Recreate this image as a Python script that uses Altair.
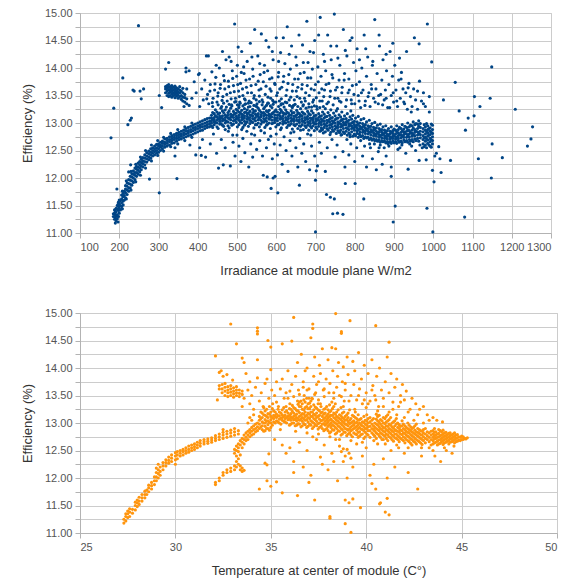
import altair as alt
import pandas as pd

# ---------------------------------------------------------------------------
# Module efficiency (%) against irradiance at module plane (W/m2)
# Column records: (irradiance, eff, eff, ...) ; pair records: (irradiance, eff)
# ---------------------------------------------------------------------------
IRR_CURVE = [
    (185, 11.35, 11.3), (188, 11.25, 11.36, 11.42), (190, 11.18, 11.28, 11.33, 11.4),
    (192, 11.22, 11.31, 11.38, 11.45), (195, 11.26, 11.33, 11.43, 11.5),
    (198, 11.3, 11.41, 11.48, 11.56), (200, 11.36, 11.45, 11.53, 11.6),
    (203, 11.42, 11.5, 11.59), (206, 11.48, 11.55, 11.62, 11.69), (210, 11.51, 11.58, 11.66, 11.72),
    (213, 11.6, 11.68, 11.76), (216, 11.64, 11.73, 11.8, 11.86), (220, 11.7, 11.78, 11.85, 11.91),
    (224, 11.76, 11.82, 11.9, 11.97), (228, 11.82, 11.89, 11.96, 12.03), (232, 11.87, 11.95, 12.02, 12.08),
    (236, 11.92, 12.0, 12.07, 12.13), (240, 11.97, 12.05, 12.1, 12.18), (244, 12.03, 12.1, 12.16, 12.21),
    (248, 12.07, 12.14, 12.2, 12.27), (252, 12.11, 12.18, 12.24, 12.3), (256, 12.15, 12.22, 12.28, 12.34),
    (260, 12.2, 12.26, 12.31, 12.37), (265, 12.24, 12.3, 12.36, 12.42), (270, 12.29, 12.35, 12.4, 12.46),
    (275, 12.33, 12.38, 12.44, 12.49), (280, 12.36, 12.42, 12.47, 12.53), (285, 12.4, 12.45, 12.5, 12.55),
    (290, 12.42, 12.48, 12.53, 12.58), (295, 12.45, 12.5, 12.55, 12.61), (300, 12.47, 12.53, 12.58, 12.62),
    (305, 12.5, 12.56, 12.6, 12.65), (310, 12.53, 12.58, 12.63, 12.67), (316, 12.56, 12.61, 12.65, 12.71),
    (322, 12.58, 12.63, 12.68, 12.72), (328, 12.6, 12.66, 12.7, 12.75), (334, 12.63, 12.68, 12.72, 12.77),
    (340, 12.64, 12.7, 12.74, 12.79), (346, 12.67, 12.72, 12.77, 12.81), (352, 12.7, 12.74, 12.79, 12.83),
    (358, 12.71, 12.76, 12.8, 12.85), (364, 12.73, 12.78, 12.82, 12.87), (370, 12.75, 12.8, 12.85, 12.9),
    (376, 12.77, 12.82, 12.86, 12.92), (382, 12.78, 12.84, 12.88, 12.94), (388, 12.8, 12.86, 12.91, 12.96),
    (394, 12.82, 12.88, 12.92, 12.98), (400, 12.84, 12.9, 12.95, 13.0), (406, 12.86, 12.92, 12.96, 13.02),
    (412, 12.87, 12.93, 12.98, 13.04), (418, 12.9, 12.95, 13.0, 13.06), (424, 12.92, 12.97, 13.02, 13.08),
    (430, 12.93, 12.98, 13.03, 13.09),
    # looser readings around the rising edge
    (197, 11.2, 11.52), (208, 11.44, 11.76), (218, 11.62, 11.95), (230, 11.78, 12.12),
    (242, 11.93, 12.25), (254, 12.05, 12.38), (267, 12.18, 12.5), (282, 12.31, 12.6),
    (298, 12.41, 12.68), (313, 12.49, 12.74), (331, 12.57, 12.81), (349, 12.62, 12.88),
    (367, 12.68, 12.93), (385, 12.74, 13.0),
]

IRR_BAND = [
    (435, 12.95, 13.0, 13.04, 13.09, 13.14), (442, 12.97, 13.02, 13.06, 13.1, 13.17),
    (449, 12.93, 13.0, 13.05, 13.11, 13.2), (456, 12.98, 13.03, 13.07, 13.12, 13.18),
    (463, 12.96, 13.04, 13.08, 13.13, 13.22), (470, 13.0, 13.05, 13.1, 13.15, 13.24),
    (477, 12.95, 13.02, 13.09, 13.14, 13.19), (484, 13.0, 13.06, 13.11, 13.16, 13.27),
    (491, 12.98, 13.04, 13.1, 13.15, 13.21), (498, 13.01, 13.07, 13.12, 13.18, 13.25),
    (505, 12.97, 13.05, 13.1, 13.14, 13.2, 13.28), (512, 13.0, 13.06, 13.11, 13.16, 13.23),
    (519, 12.96, 13.03, 13.09, 13.13, 13.19, 13.26), (526, 13.02, 13.07, 13.12, 13.17, 13.24),
    (533, 12.99, 13.05, 13.1, 13.15, 13.21, 13.3), (540, 13.01, 13.08, 13.13, 13.18, 13.25),
    (547, 12.97, 13.04, 13.1, 13.16, 13.22), (554, 13.0, 13.06, 13.12, 13.17, 13.27),
    (561, 12.98, 13.05, 13.11, 13.15, 13.2), (568, 13.02, 13.08, 13.13, 13.19, 13.26),
    (575, 12.96, 13.03, 13.09, 13.14, 13.22), (582, 13.0, 13.07, 13.12, 13.16, 13.23),
    (589, 12.99, 13.05, 13.11, 13.17, 13.28), (596, 13.01, 13.06, 13.1, 13.15, 13.21),
    (603, 12.97, 13.04, 13.09, 13.14, 13.2), (610, 13.0, 13.07, 13.12, 13.18, 13.25),
    (617, 12.98, 13.03, 13.08, 13.13, 13.19), (624, 13.0, 13.05, 13.1, 13.16, 13.24),
    (631, 12.96, 13.02, 13.08, 13.12, 13.18), (638, 12.99, 13.04, 13.09, 13.14, 13.22),
    (645, 12.97, 13.03, 13.07, 13.12, 13.19), (652, 12.98, 13.05, 13.1, 13.15, 13.23),
    (659, 12.95, 13.01, 13.06, 13.11, 13.17), (666, 12.97, 13.03, 13.08, 13.13, 13.2),
    (673, 12.95, 13.0, 13.05, 13.1, 13.16), (680, 12.96, 13.02, 13.07, 13.12, 13.21),
    (687, 12.94, 12.99, 13.04, 13.09, 13.15), (694, 12.95, 13.01, 13.06, 13.1, 13.18),
    (701, 12.92, 12.98, 13.03, 13.08, 13.14), (708, 12.94, 12.99, 13.05, 13.1, 13.17),
    (715, 12.91, 12.97, 13.02, 13.07, 13.13), (722, 12.92, 12.98, 13.03, 13.09, 13.16),
    (729, 12.9, 12.95, 13.0, 13.05, 13.12), (736, 12.91, 12.96, 13.02, 13.07, 13.14),
    (743, 12.88, 12.93, 12.99, 13.04, 13.1), (750, 12.89, 12.95, 13.0, 13.06, 13.13),
    (757, 12.86, 12.92, 12.97, 13.02, 13.09), (764, 12.87, 12.93, 12.98, 13.04, 13.11),
    (771, 12.84, 12.9, 12.96, 13.01, 13.07), (778, 12.85, 12.91, 12.97, 13.02, 13.08),
    (785, 12.82, 12.88, 12.94, 12.99, 13.05), (792, 12.84, 12.9, 12.95, 13.0, 13.07),
    (799, 12.8, 12.87, 12.92, 12.97, 13.03), (806, 12.81, 12.86, 12.91, 12.96, 13.02),
    (813, 12.78, 12.84, 12.89, 12.94, 13.0), (820, 12.77, 12.83, 12.88, 12.93, 12.99),
    (827, 12.75, 12.81, 12.86, 12.91, 12.97), (834, 12.74, 12.8, 12.85, 12.9, 12.95),
    (841, 12.72, 12.78, 12.83, 12.88, 12.94), (848, 12.71, 12.77, 12.82, 12.87, 12.92),
    (855, 12.7, 12.76, 12.8, 12.85, 12.91), (862, 12.69, 12.74, 12.79, 12.84, 12.9),
    (869, 12.68, 12.73, 12.78, 12.83, 12.88), (876, 12.67, 12.72, 12.77, 12.82, 12.87),
    (883, 12.66, 12.71, 12.76, 12.8, 12.86), (890, 12.66, 12.71, 12.75, 12.8, 12.85),
    (897, 12.67, 12.72, 12.76, 12.81, 12.86), (904, 12.66, 12.71, 12.75, 12.8, 12.87),
    (911, 12.68, 12.72, 12.77, 12.82, 12.88), (918, 12.67, 12.73, 12.78, 12.83, 12.9),
    (925, 12.69, 12.74, 12.79, 12.84, 12.89), (932, 12.68, 12.74, 12.8, 12.85, 12.92),
    (939, 12.7, 12.75, 12.8, 12.86, 12.93), (946, 12.7, 12.76, 12.81, 12.87, 12.95),
    (953, 12.71, 12.77, 12.83, 12.88, 12.97), (960, 12.72, 12.78, 12.84, 12.9, 12.98),
    (967, 12.73, 12.79, 12.85, 12.92, 12.99), (974, 12.62, 12.7, 12.77, 12.84, 12.9),
    (980, 12.6, 12.67, 12.74, 12.8, 12.87, 12.93), (986, 12.63, 12.69, 12.76, 12.82, 12.88, 12.95),
    (992, 12.58, 12.66, 12.72, 12.79, 12.85, 12.91), (998, 12.62, 12.68, 12.75, 12.81, 12.88, 12.96),
    # in-between readings
    (438, 12.92, 13.07, 13.19, 13.3), (445, 13.01, 13.13, 13.24), (452, 12.9, 13.08, 13.16, 13.33),
    (459, 12.99, 13.1, 13.27), (466, 12.94, 13.06, 13.19, 13.36), (473, 13.03, 13.12, 13.29),
    (480, 12.91, 13.08, 13.22, 13.34), (487, 12.96, 13.13, 13.31), (494, 13.05, 13.17, 13.38),
    (501, 12.93, 13.09, 13.23, 13.33), (508, 13.02, 13.19, 13.36), (515, 12.92, 13.08, 13.14, 13.31),
    (522, 12.99, 13.2, 13.35), (529, 12.94, 13.09, 13.18, 13.29), (536, 13.03, 13.14, 13.37),
    (543, 12.91, 13.07, 13.21, 13.32), (550, 12.97, 13.14, 13.3), (557, 12.93, 13.09, 13.23, 13.39),
    (564, 13.02, 13.18, 13.33), (571, 12.92, 13.06, 13.16, 13.29), (578, 12.98, 13.2, 13.36),
    (585, 12.9, 13.1, 13.14, 13.31), (592, 13.0, 13.19, 13.34), (599, 12.93, 13.08, 13.24, 13.38),
    (606, 12.97, 13.15, 13.3), (613, 12.91, 13.09, 13.22, 13.35), (620, 13.01, 13.17, 13.29),
    (627, 12.92, 13.06, 13.2, 13.37), (634, 12.96, 13.15, 13.32), (641, 12.89, 13.06, 13.18, 13.28),
    (648, 12.95, 13.13, 13.34), (655, 12.9, 13.04, 13.19, 13.3), (662, 12.94, 13.14, 13.26),
    (669, 12.88, 13.03, 13.18, 13.33), (676, 12.92, 13.09, 13.27), (683, 12.87, 13.0, 13.17, 13.29),
    (690, 12.91, 13.08, 13.22), (697, 12.86, 12.99, 13.13, 13.31), (704, 12.89, 13.06, 13.25),
    (711, 12.85, 13.01, 13.12, 13.28), (718, 12.88, 13.05, 13.2), (725, 12.84, 12.96, 13.11, 13.26),
    (732, 12.87, 13.04, 13.19), (739, 12.83, 12.97, 13.09, 13.24), (746, 12.85, 13.02, 13.18),
    (753, 12.81, 12.92, 13.08, 13.22), (760, 12.83, 13.0, 13.15), (767, 12.79, 12.94, 13.06, 13.2),
    (774, 12.81, 12.98, 13.13), (781, 12.78, 12.9, 13.03, 13.17), (788, 12.79, 12.96, 13.11),
    (795, 12.76, 12.91, 13.01, 13.14), (802, 12.77, 12.94, 13.09), (809, 12.74, 12.88, 12.98, 13.12),
    (816, 12.75, 12.91, 13.06), (823, 12.72, 12.85, 12.95, 13.08), (830, 12.73, 12.88, 13.02),
    (837, 12.7, 12.83, 12.93, 13.05), (844, 12.69, 12.85, 12.99), (851, 12.68, 12.8, 12.89, 13.01),
    (858, 12.67, 12.82, 12.96), (865, 12.65, 12.77, 12.87, 12.98), (872, 12.66, 12.8, 12.93),
    (879, 12.64, 12.74, 12.84, 12.95), (886, 12.65, 12.78, 12.9), (893, 12.63, 12.73, 12.83, 12.93),
    (900, 12.64, 12.77, 12.89), (907, 12.63, 12.73, 12.84, 12.95), (914, 12.65, 12.79, 12.92),
    (921, 12.64, 12.76, 12.86, 12.97), (928, 12.66, 12.81, 12.94), (935, 12.65, 12.77, 12.88, 13.0),
    (942, 12.67, 12.83, 12.96), (949, 12.66, 12.79, 12.91, 13.02), (956, 12.68, 12.85, 12.99),
    (963, 12.67, 12.81, 12.94, 13.04), (977, 12.57, 12.73, 12.97), (983, 12.55, 12.71, 12.84, 12.99),
    (989, 12.6, 12.78, 12.9), (995, 12.56, 12.7, 12.83, 12.98),
]

IRR_CLUSTER = [
    (318, 13.55, 13.62, 13.66), (322, 13.5, 13.58, 13.63, 13.68), (326, 13.48, 13.54, 13.6, 13.65, 13.7),
    (330, 13.5, 13.56, 13.61, 13.66), (334, 13.47, 13.53, 13.58, 13.63, 13.68),
    (338, 13.5, 13.55, 13.6, 13.65), (342, 13.46, 13.52, 13.57, 13.62, 13.67),
    (346, 13.49, 13.54, 13.59, 13.64), (350, 13.45, 13.51, 13.56, 13.62),
    (354, 13.48, 13.55, 13.6, 13.66), (358, 13.43, 13.5, 13.58), (362, 13.4, 13.47, 13.55, 13.63),
    (367, 13.38, 13.46, 13.52), (372, 13.35, 13.44), (378, 13.32),
]

IRR_ABOVE = [
    (365, 13.3), (372, 13.62), (378, 13.95), (385, 13.45), (391, 13.75), (396, 13.55), (402, 13.88),
    (405, 13.3), (410, 13.62), (414, 13.42), (418, 13.78), (422, 14.22), (425, 13.52), (428, 13.35),
    (432, 13.7), (436, 13.93), (439, 13.45), (443, 13.6), (446, 13.83), (449, 13.38), (452, 13.55),
    (455, 14.0), (458, 13.7), (461, 13.3), (464, 13.48), (466, 13.86), (469, 13.62), (472, 14.15),
    (475, 13.4), (478, 13.76), (480, 14.2), (483, 13.55), (486, 13.33), (488, 13.95), (491, 13.68),
    (494, 14.8), (496, 13.45), (499, 13.85), (501, 14.05), (504, 13.58), (507, 13.38), (509, 13.72),
    (512, 14.3), (515, 13.5), (518, 13.9), (521, 13.42), (524, 13.65), (526, 14.12), (529, 13.36),
    (532, 13.8), (534, 14.45), (537, 13.55), (540, 13.98), (543, 13.45), (545, 14.7), (548, 13.7),
    (551, 13.35), (553, 14.22), (556, 13.6), (559, 13.88), (562, 14.62), (564, 13.42), (567, 13.75),
    (570, 14.05), (572, 13.52), (575, 13.32), (578, 13.95), (581, 14.38), (584, 13.62), (586, 13.45),
    (589, 13.82), (592, 14.15), (594, 13.38), (597, 13.7), (600, 14.55), (603, 13.55), (606, 13.92),
    (608, 13.4), (611, 14.28), (614, 13.65), (617, 13.35), (619, 13.85), (622, 14.08), (625, 13.5),
    (628, 14.75), (630, 13.72), (633, 13.42), (636, 13.98), (639, 14.4), (641, 13.58), (644, 13.32),
    (647, 13.8), (650, 14.2), (653, 13.48), (655, 13.65), (658, 14.6), (661, 13.9), (664, 13.38),
    (666, 13.7), (669, 14.1), (672, 13.45), (675, 13.55), (678, 14.85), (680, 13.82), (683, 13.35),
    (686, 14.3), (689, 13.62), (692, 13.98), (695, 13.42), (698, 14.5), (700, 13.7), (703, 13.3),
    (706, 14.02), (709, 13.55), (712, 14.92), (714, 13.85), (717, 13.4), (720, 14.25), (723, 13.6),
    (726, 13.95), (729, 13.35), (731, 14.6), (734, 13.72), (737, 13.48), (740, 14.15), (742, 13.88),
    (745, 13.33), (748, 14.98), (751, 13.6), (754, 14.4), (757, 13.45), (760, 13.78), (762, 14.05),
    (765, 13.38), (768, 13.65), (771, 14.7), (774, 13.9), (777, 13.3), (780, 14.22), (783, 13.55),
    (785, 13.8), (788, 14.5), (791, 13.42), (794, 13.68), (797, 14.1), (800, 13.35), (803, 13.95),
    (806, 14.35), (809, 13.5), (812, 13.75), (815, 13.28), (818, 14.0), (821, 13.6), (824, 14.6),
    (827, 13.4), (830, 13.85), (833, 14.2), (836, 13.55), (839, 13.3), (842, 13.7), (845, 14.05),
    (848, 13.45), (851, 14.88), (854, 13.62), (857, 13.9), (860, 13.35), (863, 14.4), (866, 13.52),
    (869, 13.78), (872, 14.15), (875, 13.42), (878, 13.6), (881, 13.95), (884, 13.28), (887, 13.7),
    (890, 14.3), (893, 13.5), (896, 13.85), (899, 13.38), (902, 14.05), (905, 13.6), (909, 13.3),
    (912, 13.78), (916, 13.45), (918, 13.8), (919, 13.92), (923, 13.62), (927, 13.35), (930, 13.55),
    (934, 13.25), (936, 13.64), (938, 13.72), (942, 13.48), (946, 13.3), (950, 13.62), (952, 14.55),
    (955, 13.42), (960, 13.58), (964, 14.44), (965, 13.76), (970, 13.4), (975, 13.55), (980, 13.3),
    (985, 14.8), (990, 13.48), (996, 14.11),
    (505, 13.32), (520, 13.34), (548, 13.31), (580, 13.36), (612, 13.33), (640, 13.3),
    (668, 13.31), (690, 13.29), (720, 13.3), (756, 13.26), (790, 13.22),
    (423, 13.44), (431, 13.58), (437, 13.37), (444, 13.71), (451, 13.49), (457, 13.63), (462, 13.41),
    (468, 13.77), (474, 13.52), (479, 13.66), (485, 13.44), (489, 13.81), (493, 13.57), (497, 13.39),
    (502, 13.7), (506, 13.48), (511, 13.92), (514, 13.62), (519, 13.44), (523, 13.78), (527, 13.55),
    (531, 13.4), (536, 13.68), (541, 13.85), (544, 13.5), (549, 13.42), (554, 13.76), (557, 13.49),
    (561, 13.62), (566, 13.38), (569, 13.92), (574, 13.67), (579, 13.47), (583, 13.8), (587, 13.58),
    (591, 13.41), (596, 13.72), (601, 13.5), (605, 13.84), (609, 13.62), (613, 13.44), (618, 13.75),
    (623, 13.38), (627, 13.6), (632, 13.88), (637, 13.47), (642, 13.7), (646, 13.42), (651, 13.58),
    (656, 13.8), (660, 13.45), (665, 13.62), (671, 13.92), (674, 13.4), (679, 13.68), (684, 13.5),
    (688, 13.82), (693, 13.38), (697, 13.6), (702, 13.46), (707, 13.75), (711, 13.4), (716, 13.62),
    (721, 13.48), (727, 13.7), (733, 13.38), (738, 13.58), (744, 13.82), (749, 13.45), (755, 13.65),
    (761, 13.4), (767, 13.55), (773, 13.78), (779, 13.42), (786, 13.6), (792, 13.35), (798, 13.52),
    (804, 13.7), (811, 13.4), (817, 13.55), (826, 13.32), (834, 13.48), (843, 13.62), (852, 13.38),
    (861, 13.5), (871, 13.33), (880, 13.45), (889, 13.28), (898, 13.55), (907, 13.4), (925, 13.38),
    (944, 13.2), (960, 13.25), (975, 13.35), (990, 13.2),
    (447, 14.05), (463, 14.3), (485, 14.12), (503, 14.38), (517, 14.02), (538, 14.2), (558, 14.08),
    (574, 14.5), (590, 14.3), (606, 14.12), (618, 14.55), (633, 14.25), (652, 14.05), (667, 14.42),
    (681, 14.1), (695, 14.28), (708, 14.6), (723, 14.12), (739, 14.4), (757, 14.18), (776, 14.32),
    (793, 14.55), (812, 14.15), (828, 14.35), (846, 14.12), (862, 14.6), (880, 14.25), (897, 14.45),
    (914, 14.18), (932, 14.3),
]

IRR_BELOW = [
    (380, 12.6), (395, 12.42), (405, 12.55), (409, 12.41), (412, 12.7), (420, 12.38), (432, 12.62),
    (440, 12.8), (448, 12.45), (453, 12.18), (460, 12.7), (465, 12.24), (470, 12.55), (478, 12.85),
    (483, 12.22), (490, 12.65), (495, 12.4), (500, 12.78), (505, 12.58), (510, 12.3), (515, 12.72),
    (520, 12.46), (525, 12.85), (530, 12.2), (535, 12.62), (540, 12.38), (545, 12.78), (550, 12.52),
    (558, 12.68), (565, 12.4), (567, 12.05), (570, 12.82), (575, 12.55), (577, 12.02), (580, 12.7),
    (587, 11.81), (590, 12.35), (592, 12.0), (595, 12.62), (597, 12.03), (600, 12.8), (603, 12.42),
    (604, 11.73), (610, 12.6), (615, 12.25), (620, 12.75), (625, 12.5), (630, 12.12), (635, 12.68),
    (640, 12.4), (645, 12.84), (650, 12.55), (655, 12.2), (659, 11.87), (660, 12.72), (665, 12.45),
    (670, 12.62), (675, 12.3), (680, 12.8), (685, 12.15), (690, 12.58), (698, 12.4), (700, 11.96),
    (700, 11.02), (702, 12.13), (705, 12.22), (710, 12.65), (715, 12.45), (720, 12.82), (725, 12.12),
    (728, 11.7), (730, 12.55), (738, 11.65), (742, 12.7), (744, 11.35), (748, 11.62), (750, 12.38),
    (755, 12.6), (756, 11.36), (765, 12.78), (770, 11.34), (770, 12.48), (775, 12.2), (776, 11.9),
    (780, 12.7), (785, 12.42), (790, 12.62), (800, 12.3), (801, 11.9), (805, 12.55), (815, 12.68),
    (820, 12.4), (823, 11.62), (825, 12.58), (830, 12.2), (840, 12.55), (845, 12.35), (850, 12.62),
    (855, 12.15), (860, 12.48), (865, 12.6), (870, 12.25), (875, 12.55), (880, 12.4), (885, 12.62),
    (893, 12.2), (893, 12.03), (898, 11.2), (903, 11.49), (910, 12.52), (920, 12.6), (930, 12.45),
    (936, 12.16), (945, 12.58), (955, 12.5), (964, 12.32), (972, 12.55), (982, 12.33), (984, 11.45),
    (998, 12.14), (999, 11.02), (1002, 11.93),
    (470, 12.88), (489, 12.78), (512, 12.88), (537, 12.8), (561, 12.86), (586, 12.76), (611, 12.88),
    (637, 12.82), (662, 12.87), (688, 12.78), (713, 12.86), (737, 12.79), (762, 12.83), (788, 12.75),
    (812, 12.8), (838, 12.62), (862, 12.55), (887, 12.58), (915, 12.55), (940, 12.62), (966, 12.6),
]

IRR_OUTLIERS = [
    (179, 12.73), (186, 13.27), (194, 11.8), (209, 13.82), (222, 12.97), (224, 12.11), (228, 13.05),
    (229, 12.24), (231, 13.09), (235, 13.6), (238, 13.58), (249, 14.77), (253, 13.58), (256, 13.44),
    (262, 13.62), (277, 11.98), (302, 13.5), (302, 11.73), (308, 13.28), (318, 13.98), (326, 14.1),
    (342, 12.4), (342, 12.55), (347, 11.99), (370, 14.0), (370, 13.93), (404, 13.9), (427, 14.22),
    (1004, 12.4), (1008, 12.45), (1014, 12.57), (1017, 12.35), (1020, 12.1), (1026, 13.42),
    (1044, 12.32), (1056, 13.74), (1066, 13.22), (1080, 11.29), (1082, 12.87), (1089, 13.09),
    (1104, 13.13), (1105, 13.48), (1115, 12.35), (1119, 13.3), (1145, 13.45), (1148, 12.0),
    (1149, 14.02), (1150, 12.62), (1176, 12.37), (1209, 13.25), (1240, 12.58), (1249, 12.71),
    (1253, 12.93),
]

# ---------------------------------------------------------------------------
# Module efficiency (%) against temperature at center of module (°C)
# ---------------------------------------------------------------------------
TMP_CURVE = [
    (27.3, 11.18, 11.25), (27.4, 11.22, 11.3, 11.35), (27.5, 11.28, 11.35, 11.4),
    (27.6, 11.3, 11.38, 11.44), (27.75, 11.36, 11.43), (27.9, 11.42, 11.5, 11.56),
    (28.0, 11.48, 11.55, 11.6), (28.1, 11.52, 11.58, 11.65), (28.25, 11.58, 11.64, 11.7),
    (28.4, 11.64, 11.7, 11.76), (28.5, 11.7, 11.78), (28.6, 11.75, 11.82, 11.87),
    (28.75, 11.8, 11.86, 11.92), (28.9, 11.88, 11.95, 12.02), (29.0, 11.95, 12.02, 12.1, 12.18),
    (29.1, 12.0, 12.08, 12.15, 12.25), (29.2, 12.05, 12.12, 12.2), (29.35, 12.15, 12.22, 12.28),
    (29.5, 12.22, 12.28, 12.33), (29.65, 12.27, 12.32, 12.38), (29.8, 12.3, 12.36, 12.42),
    (30.0, 12.25, 12.33, 12.4, 12.46), (30.1, 12.35, 12.42, 12.48), (30.25, 12.4, 12.45, 12.5),
    (30.4, 12.42, 12.48, 12.52), (30.55, 12.45, 12.5, 12.55), (30.7, 12.47, 12.52, 12.58),
    (30.85, 12.5, 12.55, 12.6), (31.0, 12.52, 12.57, 12.62), (31.15, 12.55, 12.6, 12.65),
    (31.3, 12.58, 12.63, 12.68), (31.5, 12.62, 12.66, 12.7), (31.7, 12.63, 12.67, 12.71),
    (31.9, 12.65, 12.69, 12.73), (32.1, 12.68, 12.72, 12.77), (32.3, 12.7, 12.75, 12.8),
    (32.5, 12.72, 12.78, 12.83, 12.88), (32.7, 12.74, 12.8, 12.85), (32.9, 12.76, 12.82, 12.87),
    (33.1, 12.78, 12.84, 12.9), (33.3, 12.8, 12.86),
]

TMP_BRANCH = [
    (32.1, 11.88, 11.92), (32.3, 11.95, 12.0), (32.5, 12.05, 12.1), (32.7, 12.1, 12.15),
    (32.9, 12.12, 12.18), (33.1, 12.15, 12.22, 12.45, 12.52), (33.2, 12.2, 12.3, 12.4, 12.5, 12.58),
    (33.3, 12.25, 12.35, 12.48, 12.55, 12.62), (33.4, 12.15, 12.22, 12.42, 12.6, 12.68),
    (33.5, 12.12, 12.18, 12.55, 12.65, 12.72), (33.6, 12.14, 12.62, 12.7, 12.78),
    (33.7, 12.68, 12.74, 12.82), (33.8, 12.7, 12.78, 12.85), (33.9, 12.75, 12.82, 12.88),
    (34.0, 12.78, 12.85, 12.92), (34.1, 12.8, 12.88, 12.95), (34.2, 12.84, 12.9, 12.98),
    (34.3, 12.86, 12.93, 13.0),
]

TMP_CLUSTER = [
    (32.3, 13.62, 13.68), (32.45, 13.55, 13.62, 13.7), (32.6, 13.5, 13.58, 13.65, 13.72),
    (32.75, 13.48, 13.55, 13.6, 13.66), (32.9, 13.5, 13.56, 13.62, 13.68),
    (33.05, 13.47, 13.53, 13.58, 13.64), (33.2, 13.5, 13.55, 13.6, 13.66),
    (33.35, 13.48, 13.54, 13.6), (33.5, 13.52, 13.58),
]

TMP_BAND = [
    (34.4, 12.9, 12.98, 13.05, 13.12), (34.55, 12.88, 12.95, 13.02, 13.1, 13.18),
    (34.7, 12.86, 12.94, 13.0, 13.06, 13.14, 13.22), (34.85, 12.9, 12.97, 13.04, 13.1, 13.17),
    (35.0, 12.92, 13.0, 13.06, 13.12, 13.2), (35.15, 13.02, 13.08, 13.14, 13.22),
    (35.3, 13.04, 13.1, 13.16), (35.45, 13.0, 13.07, 13.13, 13.2), (35.6, 13.05, 13.1, 13.15, 13.24),
    (35.75, 13.02, 13.08, 13.14, 13.2), (35.9, 13.06, 13.12, 13.18),
    (36.05, 12.98, 13.05, 13.11, 13.17, 13.25), (36.2, 13.0, 13.06, 13.12, 13.18, 13.28),
    (36.35, 12.96, 13.04, 13.1, 13.16, 13.23), (36.5, 12.98, 13.05, 13.12, 13.19, 13.3),
    (36.65, 12.95, 13.03, 13.1, 13.17, 13.25, 13.35), (36.8, 12.97, 13.05, 13.12, 13.2, 13.28, 13.38),
    (36.95, 12.94, 13.02, 13.1, 13.18, 13.26, 13.35), (37.1, 12.96, 13.04, 13.12, 13.2, 13.3, 13.4),
    (37.25, 12.93, 13.0, 13.08, 13.16, 13.24, 13.33), (37.4, 12.95, 13.03, 13.1, 13.18, 13.27),
    (37.55, 12.92, 13.0, 13.07, 13.14, 13.22), (37.7, 12.9, 12.98, 13.05, 13.12, 13.2),
    (37.85, 12.88, 12.96, 13.03, 13.1, 13.18, 13.26), (38.0, 12.86, 12.94, 13.02, 13.09, 13.16, 13.24),
    (38.15, 12.84, 12.92, 13.0, 13.07, 13.14, 13.22), (38.3, 12.87, 12.95, 13.02, 13.1, 13.18, 13.3),
    (38.45, 12.82, 12.9, 12.98, 13.05, 13.12, 13.2), (38.6, 12.85, 12.93, 13.0, 13.08, 13.15),
    (38.75, 12.8, 12.88, 12.96, 13.03, 13.1, 13.18), (38.9, 12.83, 12.9, 12.98, 13.05, 13.12),
    (39.05, 12.8, 12.87, 12.95, 13.02, 13.1, 13.18), (39.2, 12.78, 12.86, 12.93, 13.0, 13.08),
    (39.35, 12.82, 12.9, 12.97, 13.04, 13.12), (39.5, 12.79, 12.87, 12.94, 13.01, 13.08),
    (39.65, 12.76, 12.84, 12.92, 13.0, 13.06), (39.8, 12.8, 12.88, 12.95, 13.02),
    (39.95, 12.75, 12.83, 12.9, 12.98, 13.05), (40.1, 12.78, 12.86, 12.93, 13.0, 13.08),
    (40.3, 12.82, 12.9, 12.98, 13.05), (40.45, 12.76, 12.85, 12.92, 13.0),
    (40.6, 12.8, 12.88, 12.96, 13.04, 13.12), (40.75, 12.74, 12.82, 12.9, 12.98, 13.06),
    (40.9, 12.78, 12.85, 12.92, 13.0, 13.1), (41.05, 12.72, 12.8, 12.88, 12.95, 13.02, 13.12),
    (41.2, 12.75, 12.83, 12.9, 12.98, 13.06), (41.35, 12.7, 12.78, 12.86, 12.93, 13.0),
    (41.5, 12.73, 12.8, 12.88, 12.95, 13.04), (41.65, 12.7, 12.77, 12.85, 12.92, 13.0),
    (41.8, 12.72, 12.8, 12.87, 12.94), (41.95, 12.68, 12.75, 12.82, 12.9, 12.98),
    (42.1, 12.7, 12.78, 12.85, 12.92), (42.25, 12.66, 12.74, 12.82, 12.88, 12.96),
    (42.4, 12.7, 12.77, 12.84, 12.9), (42.55, 12.65, 12.72, 12.8, 12.87, 12.95),
    (42.7, 12.68, 12.76, 12.83, 12.9), (42.85, 12.64, 12.72, 12.79, 12.86),
    (43.0, 12.68, 12.75, 12.82, 12.88), (43.2, 12.7, 12.77, 12.84),
    (43.5, 12.62, 12.68, 12.74, 12.8, 12.86), (43.65, 12.65, 12.72, 12.78, 12.84),
    (43.8, 12.62, 12.69, 12.75, 12.81, 12.88), (43.95, 12.66, 12.72, 12.78, 12.84),
    (44.1, 12.64, 12.7, 12.76, 12.82), (44.25, 12.67, 12.73, 12.79),
    (44.4, 12.65, 12.71, 12.77, 12.82), (44.55, 12.68, 12.74, 12.8), (44.7, 12.66, 12.72, 12.78),
    (44.85, 12.69, 12.75), (45.0, 12.7, 12.76), (45.15, 12.72), (45.3, 12.73),
    # in-between readings
    (34.48, 12.93, 13.08, 13.2), (34.63, 12.85, 13.0, 13.15, 13.28), (34.78, 12.9, 13.03, 13.12, 13.25),
    (34.93, 12.87, 13.01, 13.16, 13.3), (35.08, 12.96, 13.1, 13.26), (35.23, 13.0, 13.12, 13.2),
    (35.38, 13.02, 13.13, 13.25), (35.53, 12.98, 13.09, 13.18), (35.68, 13.03, 13.12, 13.28),
    (35.83, 13.0, 13.1, 13.22), (35.98, 12.96, 13.08, 13.14, 13.26), (36.13, 13.0, 13.09, 13.21, 13.32),
    (36.28, 12.95, 13.07, 13.14, 13.26), (36.43, 12.99, 13.08, 13.22, 13.34),
    (36.58, 12.93, 13.07, 13.14, 13.3, 13.4), (36.73, 12.99, 13.08, 13.16, 13.24, 13.42),
    (36.88, 12.92, 13.06, 13.14, 13.3, 13.45), (37.03, 12.98, 13.08, 13.16, 13.26, 13.36),
    (37.18, 12.9, 13.02, 13.12, 13.2, 13.44), (37.33, 12.97, 13.06, 13.14, 13.29),
    (37.48, 12.89, 12.99, 13.12, 13.24, 13.35), (37.63, 12.94, 13.04, 13.18, 13.3),
    (37.78, 12.86, 12.99, 13.08, 13.16, 13.25), (37.93, 12.9, 12.99, 13.06, 13.13, 13.3),
    (38.08, 12.82, 12.97, 13.05, 13.12, 13.2, 13.33), (38.23, 12.88, 12.96, 13.04, 13.14, 13.26),
    (38.38, 12.8, 12.92, 13.0, 13.08, 13.16, 13.35), (38.53, 12.86, 12.95, 13.03, 13.1, 13.24),
    (38.68, 12.78, 12.9, 12.99, 13.06, 13.13, 13.28), (38.83, 12.84, 12.93, 13.01, 13.08, 13.2),
    (38.98, 12.77, 12.89, 12.97, 13.06, 13.15), (39.13, 12.82, 12.9, 12.99, 13.05, 13.24),
    (39.28, 12.75, 12.88, 12.95, 13.02, 13.14), (39.43, 12.8, 12.92, 13.0, 13.1, 13.2),
    (39.58, 12.74, 12.83, 12.9, 12.97, 13.05, 13.15), (39.73, 12.79, 12.89, 12.97, 13.08),
    (39.88, 12.72, 12.86, 12.93, 13.01, 13.12), (40.03, 12.8, 12.9, 12.96, 13.04, 13.15),
    (40.2, 12.74, 12.86, 12.94, 13.02, 13.1), (40.38, 12.79, 12.88, 12.95, 13.08),
    (40.53, 12.72, 12.82, 12.9, 12.98, 13.07, 13.16), (40.68, 12.77, 12.86, 12.93, 13.01, 13.14),
    (40.83, 12.7, 12.8, 12.88, 12.95, 13.04), (40.98, 12.76, 12.84, 12.91, 12.99, 13.08),
    (41.13, 12.68, 12.78, 12.86, 12.94, 13.04, 13.15), (41.28, 12.73, 12.81, 12.88, 12.96, 13.1),
    (41.43, 12.67, 12.76, 12.84, 12.91, 13.02), (41.58, 12.72, 12.8, 12.86, 12.98, 13.08),
    (41.73, 12.66, 12.75, 12.83, 12.9, 12.97), (41.88, 12.7, 12.79, 12.86, 12.95, 13.04),
    (42.03, 12.64, 12.73, 12.81, 12.88, 12.95), (42.18, 12.68, 12.76, 12.83, 12.9, 13.0),
    (42.33, 12.63, 12.71, 12.79, 12.86, 12.93), (42.48, 12.67, 12.75, 12.82, 12.92),
    (42.63, 12.62, 12.7, 12.78, 12.84, 12.98), (42.78, 12.66, 12.74, 12.81, 12.88),
    (42.93, 12.61, 12.7, 12.78, 12.85), (43.1, 12.64, 12.72, 12.8, 12.9), (43.3, 12.66, 12.74, 12.82),
    (43.4, 12.6, 12.7, 12.78, 12.85), (43.58, 12.64, 12.71, 12.77, 12.83, 12.9),
    (43.73, 12.6, 12.67, 12.74, 12.8), (43.88, 12.63, 12.7, 12.77, 12.86),
    (44.03, 12.61, 12.68, 12.74, 12.8, 12.87), (44.18, 12.65, 12.71, 12.77, 12.83),
    (44.33, 12.62, 12.69, 12.75, 12.81), (44.48, 12.66, 12.72, 12.78),
    (44.63, 12.64, 12.7, 12.76, 12.82), (44.78, 12.67, 12.73, 12.79), (44.93, 12.68, 12.74),
    (45.08, 12.7, 12.75), (45.22, 12.71),
]

TMP_ABOVE = [
    (33.5, 13.3), (33.6, 13.45), (33.7, 13.9), (33.8, 13.6), (33.9, 13.35), (34.0, 13.5),
    (34.1, 13.25), (34.2, 13.65), (34.3, 13.82), (34.3, 14.15), (34.3, 14.62), (34.3, 14.67),
    (34.3, 14.73), (34.4, 13.4), (34.5, 13.55), (34.6, 13.3), (34.7, 13.72), (34.8, 13.8),
    (34.85, 14.5), (34.9, 13.45), (35.0, 13.97), (35.0, 14.38), (35.05, 13.6), (35.1, 13.35),
    (35.2, 13.5), (35.3, 13.75), (35.4, 13.3), (35.5, 13.62), (35.6, 13.8), (35.6, 14.44),
    (35.7, 13.45), (35.8, 13.55), (35.9, 13.95), (36.0, 13.35), (36.1, 14.49), (36.1, 13.7),
    (36.2, 14.92), (36.2, 13.48), (36.3, 13.85), (36.4, 14.1), (36.45, 13.6), (36.5, 13.38),
    (36.6, 14.25), (36.7, 13.75), (36.75, 13.5), (36.8, 13.95), (36.9, 14.0), (37.0, 13.62),
    (37.1, 14.55), (37.15, 13.45), (37.2, 14.8), (37.2, 14.72), (37.25, 13.85), (37.3, 14.2),
    (37.35, 13.55), (37.4, 13.7), (37.5, 13.42), (37.55, 14.05), (37.6, 13.9), (37.7, 14.35),
    (37.75, 13.6), (37.8, 13.48), (37.9, 13.8), (38.0, 14.15), (38.05, 13.55), (38.1, 13.72),
    (38.2, 14.37), (38.25, 13.95), (38.3, 13.45), (38.4, 14.99), (38.4, 14.35), (38.45, 13.65),
    (38.5, 13.85), (38.55, 14.1), (38.6, 13.5), (38.7, 14.66), (38.7, 14.63), (38.75, 13.75),
    (38.8, 14.02), (38.85, 13.4), (38.9, 13.6), (39.0, 14.2), (39.05, 13.88), (39.15, 14.86),
    (39.2, 13.5), (39.3, 14.12), (39.35, 13.7), (39.4, 13.95), (39.5, 13.42), (39.6, 14.28),
    (39.65, 13.62), (39.75, 13.8), (39.8, 13.35), (39.9, 14.05), (40.0, 13.55), (40.1, 13.9),
    (40.2, 13.4), (40.3, 14.15), (40.35, 13.68), (40.45, 13.5), (40.5, 14.77), (40.55, 13.85),
    (40.65, 13.3), (40.7, 14.0), (40.8, 13.6), (40.9, 13.45), (41.0, 13.75), (41.1, 14.2),
    (41.2, 14.47), (41.2, 13.55), (41.3, 13.9), (41.4, 13.38), (41.5, 13.65), (41.6, 13.8),
    (41.7, 13.3), (41.8, 13.5), (41.9, 13.7), (42.0, 13.42), (42.1, 13.58), (42.3, 13.25),
    (42.4, 13.45), (42.6, 13.35), (42.8, 13.25), (43.0, 13.3), (43.2, 13.15), (43.5, 13.1),
    (43.7, 13.05), (44.0, 13.02),
    (35.8, 13.3), (36.4, 13.4), (37.0, 13.45), (37.6, 13.35), (38.2, 13.38), (38.8, 13.3),
    (39.4, 13.25), (40.0, 13.28), (40.6, 13.22), (41.2, 13.2), (41.6, 13.15), (42.0, 13.1),
    (42.5, 13.05), (43.0, 13.0), (33.9, 13.1), (34.1, 13.15), (33.8, 13.0), (34.0, 13.05),
    (32.1, 14.22), (32.9, 14.8), (33.2, 14.44), (32.3, 13.92), (32.4, 13.95), (32.5, 13.85),
    (32.7, 13.88), (33.0, 13.78), (33.5, 14.18), (33.6, 14.1), (32.2, 13.42), (33.9, 13.75),
    (35.3, 13.38), (35.9, 13.45), (36.5, 13.52), (36.9, 13.6), (37.3, 13.52), (37.8, 13.62),
    (38.3, 13.55), (38.7, 13.48), (39.1, 13.4), (39.6, 13.5), (40.1, 13.35), (40.5, 13.42),
    (40.9, 13.3), (41.4, 13.25), (41.8, 13.38), (42.2, 13.2), (42.7, 13.15), (43.3, 13.05),
    (36.0, 13.58), (37.5, 13.75), (38.9, 13.72), (40.3, 13.6), (36.7, 13.65), (39.9, 13.42),
]

TMP_BELOW = [
    (34.4, 11.8), (35.0, 11.85), (35.3, 11.93), (34.8, 11.95), (34.7, 12.27), (34.8, 12.24),
    (34.9, 12.44), (35.6, 11.73), (35.6, 12.6), (35.2, 12.7), (35.8, 12.45), (36.0, 12.55),
    (36.2, 12.3), (36.4, 11.68), (36.5, 12.65), (36.7, 12.2), (36.9, 12.5), (37.1, 12.05),
    (37.3, 11.6), (37.4, 12.7), (37.6, 12.38), (37.8, 12.6), (38.0, 12.15), (38.1, 11.3),
    (38.1, 11.27), (38.2, 12.45), (38.4, 12.7), (38.5, 11.95), (38.6, 12.58), (38.8, 12.3),
    (38.9, 11.17), (38.9, 11.6), (39.0, 12.52), (39.1, 11.55), (39.2, 11.01), (39.3, 11.62),
    (39.3, 12.2), (39.5, 12.62), (39.7, 11.46), (39.8, 12.4), (40.0, 12.55), (40.2, 12.05),
    (40.4, 12.25), (40.5, 11.8), (40.6, 12.62), (40.7, 11.53), (40.75, 11.55), (40.9, 12.35),
    (41.0, 11.38), (41.1, 11.63), (41.2, 11.33), (41.1, 12.0), (41.3, 12.5), (41.5, 12.2),
    (41.7, 12.55), (42.0, 12.45), (42.2, 12.1), (42.4, 12.6), (42.7, 11.8), (42.9, 12.4),
    (43.3, 12.55), (43.6, 12.4), (43.9, 12.3), (44.2, 12.5), (44.5, 12.45), (36.2, 12.1),
    (37.0, 11.92), (37.7, 12.25), (39.0, 12.0), (40.3, 11.9), (38.3, 12.3),
    (38.7, 12.48), (38.9, 12.4), (39.1, 12.45), (39.2, 12.36), (38.8, 12.53),
    (35.5, 12.88), (36.3, 12.85), (36.9, 12.82), (37.5, 12.8), (38.1, 12.75), (38.6, 12.7),
    (39.2, 12.68), (39.8, 12.65), (40.4, 12.68), (41.0, 12.62), (41.6, 12.6), (42.2, 12.55),
    (42.9, 12.55), (43.5, 12.5), (44.1, 12.55), (44.6, 12.58), (37.2, 12.75), (40.9, 12.7),
]

EFF_TICKS = [11 + 0.25 * i for i in range(17)]
IRR_TICKS = list(range(100, 1301, 100))
TMP_TICKS = list(range(25, 51, 5))


def expand(columns):
    rows = []
    for rec in columns:
        for eff in rec[1:]:
            rows.append({"x": rec[0], "y": eff})
    return rows


irr_df = pd.DataFrame(
    expand(IRR_CURVE) + expand(IRR_BAND) + expand(IRR_CLUSTER)
    + expand(IRR_ABOVE) + expand(IRR_BELOW) + expand(IRR_OUTLIERS)
)
tmp_df = pd.DataFrame(
    expand(TMP_CURVE) + expand(TMP_BRANCH) + expand(TMP_CLUSTER)
    + expand(TMP_BAND) + expand(TMP_ABOVE) + expand(TMP_BELOW)
)

FONT = "Liberation Sans"
GRID = "#cccccc"
LABEL_EXPR = "(round(datum.value * 100) % 50 == 0) ? format(datum.value, '.2f') : ''"


def scatter(df, color, x_dom, x_ticks, x_title, width):
    return alt.Chart(df).mark_circle(size=10, opacity=1, color=color).encode(
        x=alt.X(
            "x:Q",
            scale=alt.Scale(domain=x_dom, nice=False, zero=False),
            axis=alt.Axis(values=x_ticks, title=x_title, format="d"),
        ),
        y=alt.Y(
            "y:Q",
            scale=alt.Scale(domain=[11, 15], nice=False, zero=False),
            axis=alt.Axis(values=EFF_TICKS, labelExpr=LABEL_EXPR, title="Efficiency (%)"),
        ),
    ).properties(width=width, height=220)


top = scatter(irr_df, "#004586", [100, 1300], IRR_TICKS, "Irradiance at module plane W/m2", 471)
bottom = scatter(tmp_df, "#ff950e", [25, 50], TMP_TICKS, "Temperature at center of module (C°)", 477)

chart = alt.vconcat(top, bottom, spacing=28).properties(
    padding={"left": 20, "top": 6, "right": 5, "bottom": 3},
    background="white",
).configure_view(
    stroke=GRID, strokeWidth=1,
).configure_axis(
    labelFont=FONT, titleFont=FONT, labelFontSize=11, titleFontSize=13,
    labelColor="#555555", titleColor="#333333", titleFontWeight="normal",
    gridColor=GRID, gridWidth=1, domainColor="#b3b3b3",
    tickColor="#b3b3b3", tickSize=5, labelPadding=3,
).configure_axisY(
    titlePadding=10,
).configure_axisX(
    titlePadding=12,
)

chart.save("out.html", embed_options={"renderer": "svg", "actions": False})
